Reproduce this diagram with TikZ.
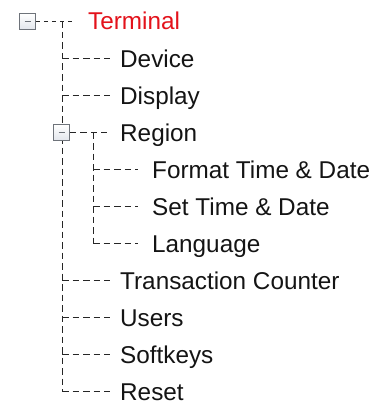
\documentclass[tikz,border=0pt]{standalone}
\usepackage{fontspec}
\setmainfont{Liberation Sans}
\definecolor{termred}{HTML}{E3121B}
\definecolor{boxfill}{HTML}{E2E6EC}
\definecolor{boxline}{HTML}{6E737A}
\begin{document}
\begin{tikzpicture}[x=1pt,y=1pt]
\tikzset{
  lbl/.style={anchor=base west, inner sep=0pt, font=\fontsize{24.3}{28}\selectfont, text=black!92},
  conn/.style={draw=black!85, line width=1pt, dash pattern=on 6.5pt off 4pt},
  tbox/.style={draw=boxline, line width=0.9pt, top color=white, bottom color=boxfill, minimum size=16pt, inner sep=0pt, rectangle},
}
\useasboundingbox (0,0) rectangle (385,-404);
% text nodes (baselines)
\node[lbl, text=termred] (terminal) at (88,-30) {Terminal};
\node[lbl] (device) at (120,-67) {Device};
\node[lbl] (display) at (120,-104) {Display};
\node[lbl] (region) at (120,-141) {Region};
\node[lbl] (format) at (152,-178) {Format Time \& Date};
\node[lbl] (settime) at (152,-215) {Set Time \& Date};
\node[lbl] (language) at (152,-252) {Language};
\node[lbl] (trans) at (120,-289) {Transaction Counter};
\node[lbl] (users) at (120,-326) {Users};
\node[lbl] (softkeys) at (120,-363) {Softkeys};
\node[lbl] (reset) at (120,-400) {Reset};
% connector coordinates
\coordinate (t0) at (62,-21.5);
\coordinate (tend) at (72,-21.5);
\coordinate (v1end) at (62,-391.5);
\coordinate (v2top) at (93,-132.5);
\coordinate (v2end) at (93,-243.5);
% level 1 vertical
\draw[conn] (t0) -- (v1end);
% level 2 vertical
\draw[conn] (v2top) -- (v2end);
% boxes
\node[tbox] (tb) at (27.5,-21.5) {};
\draw[boxline, line width=1pt] ([xshift=-3pt]tb.center) -- ([xshift=3pt]tb.center);
\node[tbox] (rb) at (61.5,-132.5) {};
\draw[boxline, line width=1pt] ([xshift=-3pt]rb.center) -- ([xshift=3pt]rb.center);
% horizontals
\draw[conn, dash pattern=on 4pt off 4pt] (tb.east) -- (tend);
\draw[conn] (rb.east) -- (rb.east -| 107,0);
\foreach \n in {device,display,trans,users,softkeys,reset}{
  \draw[conn] ([yshift=8.5pt]\n.base west -| t0) -- ([yshift=8.5pt]\n.base west -| 110,0);
}
\foreach \n in {format,settime,language}{
  \draw[conn] ([yshift=8.5pt]\n.base west -| v2top) -- ([yshift=8.5pt]\n.base west -| 138,0);
}
\end{tikzpicture}
\end{document}
